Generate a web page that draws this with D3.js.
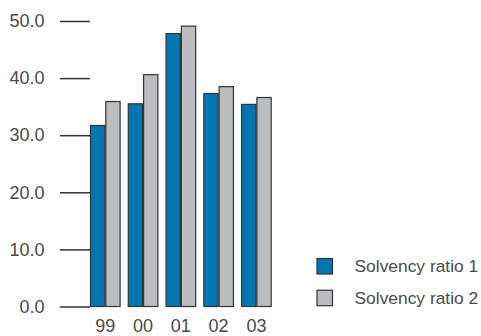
<!DOCTYPE html>
<html>
<head>
<meta charset="utf-8">
<script src="https://cdn.jsdelivr.net/npm/d3@7/dist/d3.min.js"></script>
<style>
  html, body { margin: 0; padding: 0; background: #fff; }
  svg { display: block; }
  text { font-family: "Liberation Sans", Arial, sans-serif; }
</style>
</head>
<body>
<svg id="chart" width="481" height="336"></svg>
<script>
const categories = ["99", "00", "01", "02", "03"];
const seriesNames = ["Solvency ratio 1", "Solvency ratio 2"];
const ratio1 = [31.7, 35.5, 47.8, 37.3, 35.4];
const ratio2 = [35.9, 40.6, 49.1, 38.5, 36.6];
const yTicks = [0, 10, 20, 30, 40, 50];
const colors = ["#0077b3", "#bcbdc1"];

const svg = d3.select("#chart");
const textColor = "#4a4a4a";
const axisFont = 18;
const legendFont = 17.4;

const x = d3.scaleBand().domain(categories).range([90, 271.7]).paddingInner(0.19).paddingOuter(0);
const xi = d3.scaleBand().domain([0, 1]).range([0, x.bandwidth()]);
const y = d3.scaleLinear().domain([0, 50]).range([306.5, 21]);

// y axis: tick lines from x=60 to 90, labels at left
const yAxis = d3.axisLeft(y).tickValues(yTicks).tickSize(30).tickPadding(15.5)
  .tickFormat(d3.format(".1f"));
const gy = svg.append("g").attr("transform", "translate(90,0)").call(yAxis);
gy.select(".domain").remove();
gy.selectAll(".tick line").attr("stroke", "#333").attr("stroke-width", 1.5);
gy.selectAll(".tick text").attr("fill", textColor).attr("font-size", axisFont)
  .attr("font-family", "Liberation Sans, Arial, sans-serif");

// x axis labels
const xAxis = d3.axisBottom(x).tickSize(0).tickPadding(13);
const gx = svg.append("g").attr("transform", "translate(0,306.5)").call(xAxis);
gx.select(".domain").remove();
gx.selectAll(".tick text").attr("fill", textColor).attr("font-size", axisFont)
  .attr("font-family", "Liberation Sans, Arial, sans-serif");

// bars
const data = categories.map((c, i) => ({ c, vals: [ratio1[i], ratio2[i]] }));
const groups = svg.append("g").selectAll("g").data(data).join("g")
  .attr("transform", d => `translate(${x(d.c)},0)`);
groups.selectAll("rect").data(d => d.vals.map((v, k) => ({ v, k }))).join("rect")
  .attr("x", d => xi(d.k) + 0.5)
  .attr("y", d => y(d.v))
  .attr("width", xi.bandwidth() - 1)
  .attr("height", d => y(0) - y(d.v))
  .attr("fill", d => colors[d.k])
  .attr("stroke", "#333")
  .attr("stroke-width", 1.2);

// legend
const legend = svg.append("g").selectAll("g").data(seriesNames).join("g")
  .attr("transform", (d, i) => `translate(317,${258.5 + i * 31.7})`);
legend.append("rect").attr("width", 15.5).attr("height", 15.5)
  .attr("fill", (d, i) => colors[i]).attr("stroke", "#333").attr("stroke-width", 1.2);
legend.append("text").attr("x", 37.5).attr("y", 7.8).attr("dy", "0.35em")
  .attr("fill", textColor).attr("font-size", legendFont).text(d => d);
</script>
</body>
</html>
